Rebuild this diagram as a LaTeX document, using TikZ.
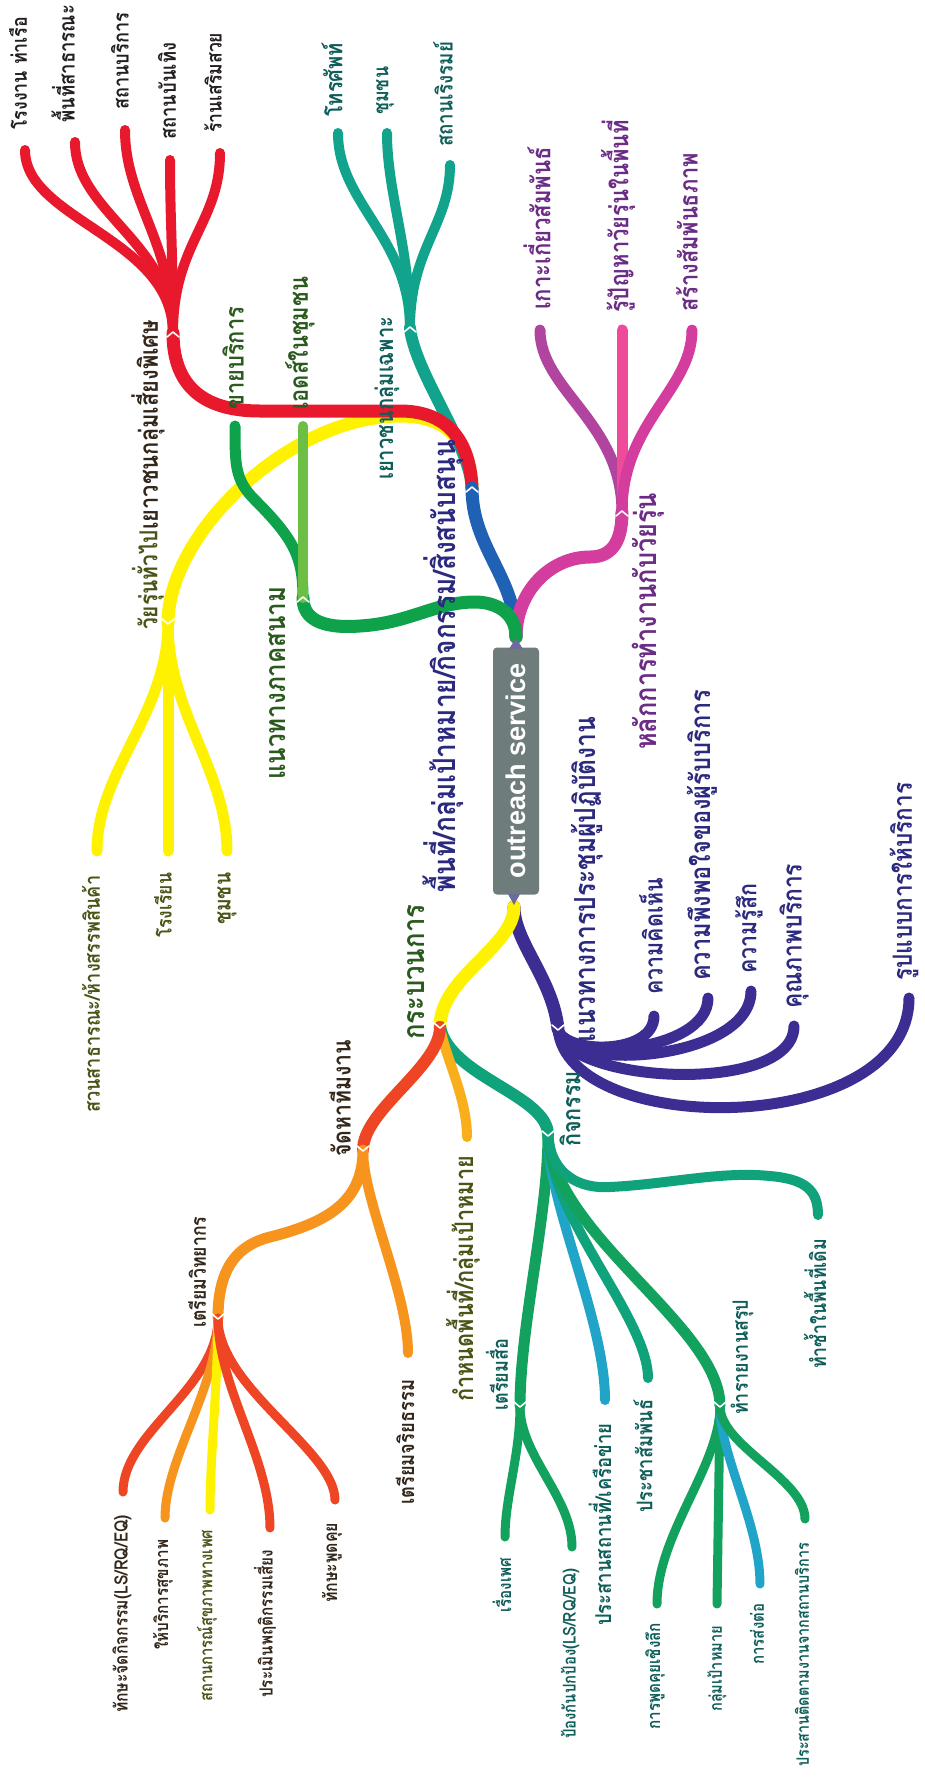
\documentclass[tikz,border=0pt]{standalone}
\usepackage{fontspec}
\usepackage{graphicx}
\usetikzlibrary{calc}
\newfontfamily\thai[Script=Thai]{Loma}
\newfontfamily\boxfont{Liberation Sans}
\newcommand\fitlen[2]{\resizebox{#1pt}{!}{\scalebox{1}[1.18]{#2}}}
\definecolor{cYel}{HTML}{FFF200}
\definecolor{cRed}{HTML}{E8192C}
\definecolor{cTeal}{HTML}{12A38C}
\definecolor{cBlue}{HTML}{1F62B5}
\definecolor{cGreen}{HTML}{0EA24A}
\definecolor{cLGreen}{HTML}{6DBE45}
\definecolor{cMag}{HTML}{D23D9E}
\definecolor{cPink}{HTML}{EE4C9B}
\definecolor{cPurp}{HTML}{B0449E}
\definecolor{cInd}{HTML}{3C2D92}
\definecolor{cOrR}{HTML}{EE4524}
\definecolor{cOr}{HTML}{F7941D}
\definecolor{cOrY}{HTML}{F9AE1B}
\definecolor{cAct}{HTML}{10A27A}
\definecolor{cGrn}{HTML}{12A25E}
\definecolor{cCyan}{HTML}{20A5C8}
\definecolor{cGray}{HTML}{6F7C7C}
\definecolor{cTri}{HTML}{6E6A9A}
\definecolor{tBlack}{HTML}{231F20}
\definecolor{tTeal}{HTML}{0F5E5A}
\definecolor{tGreen}{HTML}{2A5A1E}
\definecolor{tOlive}{HTML}{4B5316}
\definecolor{tPurp}{HTML}{6B2C85}
\definecolor{tNavy}{HTML}{2B2A7E}
\definecolor{tDark}{HTML}{33261A}
\tikzset{
  lbl/.style={rotate=90, anchor=west, inner sep=0pt, font=\thai\bfseries},
  br/.style={draw, line width=#1pt, line cap=round},
  notch/.style={draw=white, line width=1.6pt, line cap=round, line join=round}
}
\begin{document}
\begin{tikzpicture}[x=1pt,y=-1pt]
\fill[white] (0,0) rectangle (925,1781);
\useasboundingbox (0,0) rectangle (925,1781);
% ---------- coordinates
\coordinate (rt) at (516,637);
\coordinate (rb) at (514,907);
\coordinate (Jarea) at (472,488);
\coordinate (Jf) at (303,598);
\coordinate (Efa) at (235,426);
\coordinate (Eaids) at (303,426);
\coordinate (Jred) at (173,333);
\coordinate (R1) at (25,150);
\coordinate (R2) at (75,142);
\coordinate (R3) at (125,130);
\coordinate (R4) at (170,160);
\coordinate (R5) at (220,153);
\coordinate (Jteal) at (410,328);
\coordinate (T1) at (338,133);
\coordinate (T2) at (387,133);
\coordinate (T3) at (450,165);
\coordinate (Jyel) at (168,623);
\coordinate (Y1) at (97,851);
\coordinate (Y2) at (168,851);
\coordinate (Y3) at (227,851);
\coordinate (Jmag) at (622,512);
\coordinate (M1) at (540,330);
\coordinate (M2) at (622,330);
\coordinate (M3) at (692,330);
\coordinate (Jind) at (558,1029);
\coordinate (I1) at (654,1016);
\coordinate (I2) at (708,998);
\coordinate (I3) at (751,991);
\coordinate (I4) at (794,1026);
\coordinate (I5) at (909,998);
\coordinate (Jproc) at (440,1027);
\coordinate (Jteam) at (363,1150);
\coordinate (Jspk) at (218,1318);
\coordinate (S1) at (123,1492);
\coordinate (S2) at (165,1518);
\coordinate (S3) at (210,1510);
\coordinate (S4) at (270,1528);
\coordinate (S5) at (335,1500);
\coordinate (Eeth) at (408,1353);
\coordinate (Earea) at (467,1137);
\coordinate (Jact) at (548,1135);
\coordinate (Jmedia) at (520,1406);
\coordinate (Enet) at (605,1400);
\coordinate (Epr) at (648,1378);
\coordinate (Jrep) at (720,1406);
\coordinate (Erep) at (818,1215);
\coordinate (D1) at (505,1537);
\coordinate (D2) at (572,1547);
\coordinate (P1) at (657,1604);
\coordinate (P2) at (717,1604);
\coordinate (P3) at (760,1584);
\coordinate (P4) at (805,1519);
% ---------- upper branches
\draw[br=13,cYel] (Jarea) .. controls +(-2,-50) and +(45,0) .. (400,416) .. controls +(-110,0) and +(0,-90) .. (Jyel);
\draw[br=11,cYel] (Jyel) .. controls +(0,90) and +(0,-80) .. (Y1);
\draw[br=11,cYel] (Jyel) -- (Y2);
\draw[br=11,cYel] (Jyel) .. controls +(0,90) and +(0,-80) .. (Y3);
\draw[br=12,cTeal] (Jarea) .. controls +(-3,-45) and +(5,45) .. (Jteal);
\draw[br=10,cTeal] (Jteal) .. controls +(0,-90) and +(0,70) .. (T1);
\draw[br=10,cTeal] (Jteal) .. controls +(0,-80) and +(0,60) .. (T2);
\draw[br=10,cTeal] (Jteal) .. controls +(0,-80) and +(0,60) .. (T3);
\draw[br=13,cRed] (Jarea) .. controls +(-2,-50) and +(45,0) .. (400,411) -- (260,411) .. controls +(-60,0) and +(0,50) .. (Jred);
\draw[br=10,cRed] (Jred) .. controls +(0,-95) and +(0,70) .. (R1);
\draw[br=10,cRed] (Jred) .. controls +(0,-90) and +(0,70) .. (R2);
\draw[br=10,cRed] (Jred) .. controls +(0,-90) and +(0,70) .. (R3);
\draw[br=10,cRed] (Jred) .. controls +(0,-80) and +(0,60) .. (R4);
\draw[br=10,cRed] (Jred) .. controls +(0,-90) and +(0,70) .. (R5);
\draw[br=13,cBlue] (rt) .. controls +(0,-60) and +(0,60) .. (Jarea);
\draw[br=13,cMag] (rt) .. controls +(0,-45) and +(-40,0) .. (590,557) .. controls +(25,0) and +(0,25) .. (Jmag);
\draw[br=11,cPurp] (Jmag) .. controls +(0,-90) and +(0,60) .. (M1);
\draw[br=11,cPink] (Jmag) -- (M2);
\draw[br=11,cMag] (Jmag) .. controls +(0,-90) and +(0,60) .. (M3);
\draw[br=13,cGreen] (rt) .. controls +(0,-25) and +(20,0) .. (475,602) .. controls +(-40,0) and +(50,-3) .. (360,626) .. controls +(-40,3) and +(0,20) .. (Jf);
\draw[br=11,cGreen] (Jf) .. controls +(0,-40) and +(40,40) .. (255,500) .. controls +(-20,-20) and +(0,40) .. (Efa);
\draw[br=10,cLGreen] (Jf) -- (Eaids);
% ---------- lower branches
\draw[br=13,cInd] (rb) .. controls +(0,35) and +(-5,-50) .. (Jind);
\draw[br=11,cInd] (Jind) .. controls +(5,25) and +(0,40) .. (I1);
\draw[br=11,cInd] (Jind) .. controls +(5,35) and +(0,55) .. (I2);
\draw[br=11,cInd] (Jind) .. controls +(5,45) and +(0,70) .. (I3);
\draw[br=11,cInd] (Jind) .. controls +(5,55) and +(0,70) .. (I4);
\draw[br=11,cInd] (Jind) .. controls +(10,110) and +(0,140) .. (I5);
\draw[br=13,cYel] (rb) .. controls +(0,40) and +(0,-50) .. (Jproc);
\draw[br=12,cAct] (Jproc) .. controls +(10,50) and +(0,-40) .. (Jact);
\draw[br=10,cOrY] (Jproc) .. controls +(5,30) and +(0,-40) .. (Earea);
\draw[br=12,cOrR] (Jproc) .. controls +(0,40) and +(0,-40) .. (Jteam);
\draw[br=11,cOr] (Jteam) .. controls +(0,50) and +(60,-15) .. (270,1237) .. controls +(-40,10) and +(0,-40) .. (Jspk);
\draw[br=10,cOr] (Jteam) .. controls +(0,50) and +(0,-60) .. (Eeth);
\draw[br=9,cOrR] (Jspk) .. controls +(0,70) and +(0,-60) .. (S1);
\draw[br=9,cOr] (Jspk) .. controls +(0,70) and +(0,-60) .. (S2);
\draw[br=9,cYel] (Jspk) .. controls +(0,60) and +(0,-50) .. (S3);
\draw[br=9,cOrR] (Jspk) .. controls +(0,70) and +(0,-70) .. (S4);
\draw[br=9,cOrR] (Jspk) .. controls +(0,70) and +(0,-50) .. (S5);
\draw[br=11,cGrn] (Jact) .. controls +(0,80) and +(0,-80) .. (Jmedia);
\draw[br=10,cCyan] (Jact) .. controls +(0,70) and +(0,-80) .. (Enet);
\draw[br=10,cAct] (Jact) .. controls +(0,80) and +(0,-60) .. (Epr);
\draw[br=11,cGrn] (Jact) .. controls +(5,100) and +(0,-80) .. (Jrep);
\draw[br=10,cAct] (Jact) .. controls +(3,40) and +(-30,2) .. (610,1187) .. controls +(60,-3) and +(-50,-5) .. (770,1176) .. controls +(35,3) and +(0,-25) .. (Erep);
\draw[br=9,cGrn] (Jmedia) .. controls +(0,50) and +(0,-40) .. (D1);
\draw[br=9,cGrn] (Jmedia) .. controls +(0,50) and +(0,-50) .. (D2);
\draw[br=9,cGrn] (Jrep) .. controls +(0,60) and +(0,-70) .. (P1);
\draw[br=9,cGrn] (Jrep) -- (P2);
\draw[br=9,cCyan] (Jrep) .. controls +(0,50) and +(0,-60) .. (P3);
\draw[br=9,cGrn] (Jrep) .. controls +(0,40) and +(0,-40) .. (P4);
% ---------- junction notches
\foreach \p in {Jred,Jteal,Jmag,Jarea,Jf}
  \draw[notch] ($(\p)+(-6,4)$) -- ($(\p)+(0,-1)$) -- ($(\p)+(6,4)$);
\foreach \p in {Jyel,Jproc,Jind,Jteam,Jspk,Jact,Jmedia,Jrep}
  \draw[notch] ($(\p)+(-6,-4)$) -- ($(\p)+(0,1)$) -- ($(\p)+(6,-4)$);
% ---------- central node
\node[fill=cGray, rounded corners=4pt, rotate=90, minimum width=247pt, minimum height=46pt, inner sep=0pt, text=white, font=\boxfont\bfseries] (root) at (516,771) {\resizebox{215pt}{!}{outreach service}};
\fill[cTri] (509,649) -- (516,638) -- (523,649) -- cycle;
\fill[cTri] (508,894) -- (514,905) -- (520,894) -- cycle;
% ---------- labels
\node[lbl, text=tBlack] (lR1) at (18,130) {\fitlen{113}{โรงงาน ท่าเรือ}};
\node[lbl, text=tBlack] (lR2) at (63,123) {\fitlen{118}{พื้นที่สาธารณะ}};
\node[lbl, text=tBlack] (lR3) at (120,110) {\fitlen{97}{สถานบริการ}};
\node[lbl, text=tBlack] (lR4) at (167,140) {\fitlen{97}{สถานบันเทิง}};
\node[lbl, text=tBlack] (lR5) at (213,133) {\fitlen{100}{ร้านเสริมสวย}};
\node[lbl, text=tTeal] (lT1) at (332,117) {\fitlen{74}{โทรศัพท์}};
\node[lbl, text=tTeal] (lT2) at (385,115) {\fitlen{48}{ชุมชน}};
\node[lbl, text=tTeal] (lT3) at (443,147) {\fitlen{105}{สถานเริงรมย์}};
\node[lbl, text=tPurp] (lM1) at (537,310) {\fitlen{163}{เกาะเกี่ยวสัมพันธ์}};
\node[lbl, text=tPurp] (lM2) at (618,313) {\fitlen{193}{รู้ปัญหาวัยรุ่นในพื้นที่}};
\node[lbl, text=tPurp] (lM3) at (687,312) {\fitlen{159}{สร้างสัมพันธภาพ}};
\node[lbl, text=tGreen] (lFa) at (233,410) {\fitlen{103}{ขายบริการ}};
\node[lbl, text=tGreen] (lAids) at (300,410) {\fitlen{133}{เอดส์ในชุมชน}};
\node[lbl, text=tGreen] (lField) at (277,780) {\fitlen{193}{แนวทางภาคสนาม}};
\node[lbl, text=tDark] (lRisk) at (148,530) {\fitlen{210}{เยาวชนกลุ่มเสี่ยงพิเศษ}};
\node[lbl, text=tOlive] (lTeen) at (148,630) {\fitlen{100}{วัยรุ่นทั่วไป}};
\node[lbl, text=tTeal] (lSpec) at (387,480) {\fitlen{163}{เยาวชนกลุ่มเฉพาะ}};
\node[lbl, text=tNavy] (lArea) at (443,893) {\fitlen{453}{พื้นที่/กลุ่มเป้าหมาย/กิจกรรม/สิ่งสนับสนุน}};
\node[lbl, text=tPurp] (lPrin) at (648,750) {\fitlen{257}{หลักการทำงานกับวัยรุ่น}};
\node[lbl, text=tNavy] (lMeet) at (587,1043) {\fitlen{326}{แนวทางการประชุมผู้ปฏิบัติงาน}};
\node[lbl, text=tNavy] (lI1) at (651,995) {\fitlen{117}{ความคิดเห็น}};
\node[lbl, text=tNavy] (lI2) at (702,981) {\fitlen{291}{ความพึงพอใจของผู้รับบริการ}};
\node[lbl, text=tNavy] (lI3) at (749,974) {\fitlen{90}{ความรู้สึก}};
\node[lbl, text=tNavy] (lI4) at (794,1009) {\fitlen{145}{คุณภาพบริการ}};
\node[lbl, text=tNavy] (lI5) at (904,981) {\fitlen{198}{รูปแบบการให้บริการ}};
\node[lbl, text=tGreen] (lProc) at (416,1040) {\fitlen{135}{กระบวนการ}};
\node[lbl, text=tTeal] (lAct) at (570,1147) {\fitlen{76}{กิจกรรม}};
\node[lbl, text=tDark] (lTeam) at (340,1157) {\fitlen{117}{จัดหาทีมงาน}};
\node[lbl, text=tOlive] (lArea2) at (463,1402) {\fitlen{246}{กำหนดพื้นที่/กลุ่มเป้าหมาย}};
\node[lbl, text=tDark] (lSpk) at (197,1328) {\fitlen{111}{เตรียมวิทยากร}};
\node[lbl, text=tDark] (lEth) at (405,1505) {\fitlen{125}{เตรียมจริยธรรม}};
\node[lbl, text=tDark] (lS1) at (122,1713) {\fitlen{198}{ทักษะจัดกิจกรรม(LS/RQ/EQ)}};
\node[lbl, text=tDark] (lS2) at (163,1650) {\fitlen{110}{ให้บริการสุขภาพ}};
\node[lbl, text=tOlive] (lS3) at (207,1702) {\fitlen{172}{สถานการณ์สุขภาพทางเพศ}};
\node[lbl, text=tDark] (lS4) at (265,1698) {\fitlen{148}{ประเมินพฤติกรรมเสี่ยง}};
\node[lbl, text=tDark] (lS5) at (332,1603) {\fitlen{80}{ทักษะพูดคุย}};
\node[lbl, text=tTeal] (lMedia) at (497,1411) {\fitlen{72}{เตรียมสื่อ}};
\node[lbl, text=tTeal] (lNet) at (600,1626) {\fitlen{202}{ประสานสถานที่/เครือข่าย}};
\node[lbl, text=tTeal] (lPr) at (643,1513) {\fitlen{113}{ประชาสัมพันธ์}};
\node[lbl, text=tTeal] (lRep) at (742,1415) {\fitlen{115}{ทำรายงานสรุป}};
\node[lbl, text=tTeal] (lRepeat) at (815,1369) {\fitlen{130}{ทำซ้ำในพื้นที่เดิม}};
\node[lbl, text=tTeal] (lD1) at (502,1613) {\fitlen{55}{เรื่องเพศ}};
\node[lbl, text=tTeal] (lD2) at (570,1739) {\fitlen{170}{ป้องกันปกป้อง(LS/RQ/EQ)}};
\node[lbl, text=tTeal] (lP1) at (655,1730) {\fitlen{107}{การพูดคุยเชิงลึก}};
\node[lbl, text=tTeal] (lP2) at (717,1712) {\fitlen{86}{กลุ่มเป้าหมาย}};
\node[lbl, text=tTeal] (lP3) at (757,1665) {\fitlen{61}{การส่งต่อ}};
\node[lbl, text=tTeal] (lP4) at (802,1767) {\fitlen{224}{ประสานติดตามงานจากสถานบริการ}};
\node[lbl, text=tOlive] (lY1) at (91,1113) {\fitlen{237}{สวนสาธารณะ/ห้างสรรพสินค้า}};
\node[lbl, text=tOlive] (lY2) at (163,938) {\fitlen{65}{โรงเรียน}};
\node[lbl, text=tOlive] (lY3) at (227,925) {\fitlen{52}{ชุมชน}};
\end{tikzpicture}
\end{document}
